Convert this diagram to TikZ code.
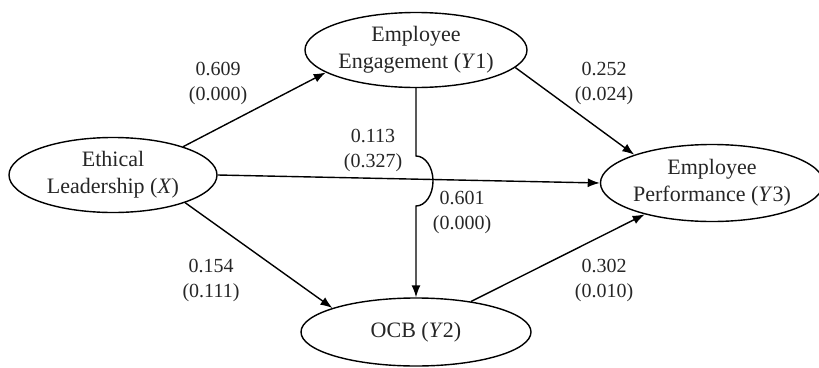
\documentclass[tikz,border=0pt]{standalone}
\usepackage{fontspec}
\setmainfont{Liberation Serif}
\usetikzlibrary{shapes.geometric,arrows.meta}
\begin{document}
\begin{tikzpicture}[x=1pt,y=-1pt,
  var/.style={ellipse,draw,line width=1.4pt,inner sep=0pt,align=center,text=black!85,font=\fontsize{22}{27}\selectfont},
  coef/.style={align=center,text=black!85,font=\fontsize{20}{25}\selectfont},
  effect/.style={line width=1.4pt,-{Latex[length=12pt,width=9pt]}}]
\useasboundingbox (0,0) rectangle (819,367);
% latent variables
\node[var,minimum width=208pt,minimum height=75pt] (el) at (113,175) {Ethical\\Leadership (\textit{X})};
\node[var,minimum width=222pt,minimum height=75pt] (ee) at (416,50) {Employee\\Engagement (\textit{Y}1)};
\node[var,minimum width=210pt,minimum height=77pt] (ep) at (712,183) {Employee\\Performance (\textit{Y}3)};
\node[var,minimum width=230pt,minimum height=68pt] (ocb) at (416,332) {OCB (\textit{Y}2)};
% paths
\draw[effect] (el.22) -- (ee.194);
\draw[effect] (el.-21) -- (ocb.164);
\draw[effect] (el.east) -- (ep.west);
\draw[effect] (ee.-10) -- (ep.160);
\draw[effect] (ocb.29) -- (ep.205);
\draw[effect] (ee.south) -- (ee.south |- 0,156) arc[start angle=-90,end angle=90,x radius=17,y radius=25] -- (ocb.north);
% coefficients
\node[coef] (c1) at (218,83) {0.609\\(0.000)};
\node[coef] (c2) at (604,83) {0.252\\(0.024)};
\node[coef] (c3) at (373,150) {0.113\\(0.327)};
\node[coef] (c4) at (462,212) {0.601\\(0.000)};
\node[coef] (c5) at (211,280) {0.154\\(0.111)};
\node[coef] (c6) at (604,280) {0.302\\(0.010)};
\end{tikzpicture}
\end{document}
